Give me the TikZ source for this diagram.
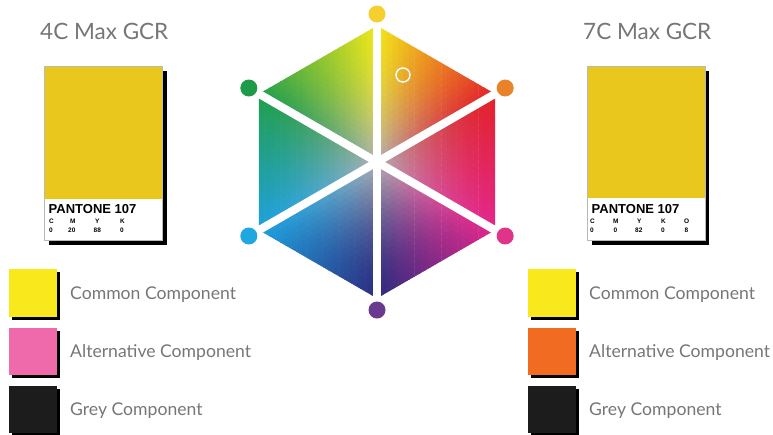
\documentclass[tikz,border=0pt]{standalone}
\usepackage{fontspec}
\setmainfont{Lato}
\newfontfamily\pfont{Liberation Sans}
\usetikzlibrary{calc}
\definecolor{txtgray}{HTML}{767676}
\definecolor{cardyellow}{HTML}{E9C71D}
\definecolor{legyellow}{HTML}{F8E81C}
\definecolor{legpink}{HTML}{EE6AAA}
\definecolor{legorange}{HTML}{F26B22}
\definecolor{legblack}{HTML}{1C1C1C}
\definecolor{dotyellow}{HTML}{F4CF2E}
\definecolor{dotorange}{HTML}{E8832A}
\definecolor{dotpink}{HTML}{E0338A}
\definecolor{dotpurple}{HTML}{6A3A90}
\definecolor{dotcyan}{HTML}{1EA8DF}
\definecolor{dotgreen}{HTML}{1E9A48}
\def\hexcx{377}\def\hexcy{162}\def\hexR{136}\def\nsub{22}
\def\hxGy{0.70}
\newcommand\hexshade[2]{%
  \pgfmathsetmacro\hxT{#1+#2}%
  \pgfmathsetmacro\hxS{#2/\hxT}%
  \pgfmathsetmacro\hxW{(1-\hxT)^1.7}%
  \pgfmathsetmacro\hxR{\hxW*\hxGy+(1-\hxW)*((1-\hxS)*\ra+\hxS*\rb)}%
  \pgfmathsetmacro\hxG{\hxW*\hxGy+(1-\hxW)*((1-\hxS)*\ga+\hxS*\gb)}%
  \pgfmathsetmacro\hxB{\hxW*\hxGy+(1-\hxW)*((1-\hxS)*\ba+\hxS*\bb)}%
  \definecolor{cellc}{rgb}{\hxR,\hxG,\hxB}%
}
\newcommand\hextri[8]{%
  \pgfmathsetmacro\uax{\hexR*cos(#1)/\nsub}%
  \pgfmathsetmacro\uay{-\hexR*sin(#1)/\nsub}%
  \pgfmathsetmacro\ubx{\hexR*cos(#2)/\nsub}%
  \pgfmathsetmacro\uby{-\hexR*sin(#2)/\nsub}%
  \def\ra{#3}\def\ga{#4}\def\ba{#5}\def\rb{#6}\def\gb{#7}\def\bb{#8}%
  \foreach \ia in {0,...,21}{%
    \foreach \ib in {0,...,21}{%
      \pgfmathtruncatemacro\isum{\ia+\ib}%
      \ifnum\isum<22
        \hexshade{(\ia+1/3)/\nsub}{(\ib+1/3)/\nsub}%
        \filldraw[fill=cellc,draw=cellc,line width=0.45pt,line join=round]
          ({\hexcx+\ia*\uax+\ib*\ubx},{\hexcy+\ia*\uay+\ib*\uby})
          -- ({\hexcx+(\ia+1)*\uax+\ib*\ubx},{\hexcy+(\ia+1)*\uay+\ib*\uby})
          -- ({\hexcx+\ia*\uax+(\ib+1)*\ubx},{\hexcy+\ia*\uay+(\ib+1)*\uby}) -- cycle;
      \fi
      \ifnum\isum<21
        \hexshade{(\ia+2/3)/\nsub}{(\ib+2/3)/\nsub}%
        \filldraw[fill=cellc,draw=cellc,line width=0.45pt,line join=round]
          ({\hexcx+(\ia+1)*\uax+\ib*\ubx},{\hexcy+(\ia+1)*\uay+\ib*\uby})
          -- ({\hexcx+\ia*\uax+(\ib+1)*\ubx},{\hexcy+\ia*\uay+(\ib+1)*\uby})
          -- ({\hexcx+(\ia+1)*\uax+(\ib+1)*\ubx},{\hexcy+(\ia+1)*\uay+(\ib+1)*\uby}) -- cycle;
      \fi
    }%
  }%
}
\tikzset{
  title/.style={anchor=base west,inner sep=0pt,text=txtgray,font=\fontsize{22.5}{26}\selectfont},
  legtext/.style={anchor=west,inner sep=0pt,text=txtgray,font=\fontsize{17.6}{21}\selectfont},
  pant/.style={anchor=base west,inner sep=0pt,font=\pfont\bfseries\fontsize{13}{15}\selectfont},
  tiny/.style={anchor=base west,inner sep=0pt,font=\pfont\bfseries\fontsize{6.5}{7}\selectfont},
  card/.style={draw=gray!55,line width=0.6pt},
  spoke/.style={white,line width=8pt},
  dot/.style={circle,inner sep=0pt,minimum size=17pt}
}
\begin{document}
\begin{tikzpicture}[x=1pt,y=-1pt]
\useasboundingbox (0,0) rectangle (773,434);
% ---------- hexagon ----------
\coordinate (hc) at (\hexcx,\hexcy);
\hextri{90}{30}{0.95}{0.91}{0.10}{0.89}{0.13}{0.16}
\hextri{30}{-30}{0.89}{0.13}{0.16}{0.89}{0.15}{0.55}
\hextri{-30}{-90}{0.89}{0.15}{0.55}{0.17}{0.17}{0.50}
\hextri{-90}{-150}{0.17}{0.17}{0.50}{0.12}{0.63}{0.87}
\hextri{-150}{150}{0.12}{0.63}{0.87}{0.13}{0.62}{0.30}
\hextri{150}{90}{0.13}{0.62}{0.30}{0.95}{0.91}{0.10}
\coordinate (p90) at ($(hc)+(-90:148)$);
\coordinate (p30) at ($(hc)+(-30:148)$);
\coordinate (pm30) at ($(hc)+(30:148)$);
\coordinate (pm90) at ($(hc)+(90:148)$);
\coordinate (p210) at ($(hc)+(150:148)$);
\coordinate (p150) at ($(hc)+(210:148)$);
\foreach \p in {p90,p30,pm30,pm90,p210,p150}{\draw[spoke] (hc) -- (\p);}
\node[dot,fill=dotyellow] (d90) at (p90) {};
\node[dot,fill=dotorange] (d30) at (p30) {};
\node[dot,fill=dotpink] (dm30) at (pm30) {};
\node[dot,fill=dotpurple] (dm90) at (pm90) {};
\node[dot,fill=dotcyan] (d210) at (p210) {};
\node[dot,fill=dotgreen] (d150) at (p150) {};
\node[circle,draw=white,line width=1.4pt,minimum size=14pt,inner sep=0pt] (ring) at (403,75) {};
% ---------- left card ----------
\node[title] (t4c) at (40,39) {4C Max GCR};
\fill[black] (49,71) rectangle (167,245);
\fill[white] (44,66) rectangle (162,240);
\fill[cardyellow] (44,66) rectangle (162,199);
\draw[card] (44,66) rectangle (162,240);
\node[pant] (pl) at (48.5,213) {PANTONE 107};
\node[tiny] (lc) at (49,223) {C};
\node[tiny] (lm) at (70,223) {M};
\node[tiny] (ly) at (95,223) {Y};
\node[tiny] (lk) at (120,223) {K};
\node[tiny] (lc0) at (49,232) {0};
\node[tiny] (lm0) at (68,232) {20};
\node[tiny] (ly0) at (93.5,232) {88};
\node[tiny] (lk0) at (120,232) {0};
% ---------- right card ----------
\node[title] (t7c) at (583,39) {7C Max GCR};
\fill[black] (592,71) rectangle (709,245);
\fill[white] (587,66) rectangle (705,240);
\fill[cardyellow] (587,66) rectangle (705,198);
\draw[card] (587,66) rectangle (705,240);
\node[pant] (pr) at (591.5,213) {PANTONE 107};
\node[tiny] (rc) at (590,223) {C};
\node[tiny] (rm) at (613,223) {M};
\node[tiny] (ry) at (637,223) {Y};
\node[tiny] (rk) at (661,223) {K};
\node[tiny] (ro) at (684,223) {O};
\node[tiny] (rc0) at (590,232) {0};
\node[tiny] (rm0) at (613.5,232) {0};
\node[tiny] (ry0) at (635,232) {82};
\node[tiny] (rk0) at (661,232) {0};
\node[tiny] (ro0) at (684.5,232) {8};
% ---------- left legend ----------
\fill[black] (12,272) rectangle (60,320);
\fill[legyellow] (9,269) rectangle (57,317);
\fill[black] (12,331) rectangle (60,378);
\fill[legpink] (9,328) rectangle (57,375);
\fill[black] (12,389) rectangle (60,436);
\fill[legblack] (9,386) rectangle (57,433);
\node[legtext] (lcc) at (70,295) {Common Component};
\node[legtext] (lac) at (70,353) {Alternative Component};
\node[legtext] (lgc) at (70,411) {Grey Component};
% ---------- right legend ----------
\fill[black] (531,272) rectangle (579,320);
\fill[legyellow] (528,269) rectangle (576,317);
\fill[black] (531,331) rectangle (579,378);
\fill[legorange] (528,328) rectangle (576,375);
\fill[black] (531,389) rectangle (579,436);
\fill[legblack] (528,386) rectangle (576,433);
\node[legtext] (rcc) at (589,295) {Common Component};
\node[legtext] (rac) at (589,353) {Alternative Component};
\node[legtext] (rgc) at (589,411) {Grey Component};
\end{tikzpicture}
\end{document}
